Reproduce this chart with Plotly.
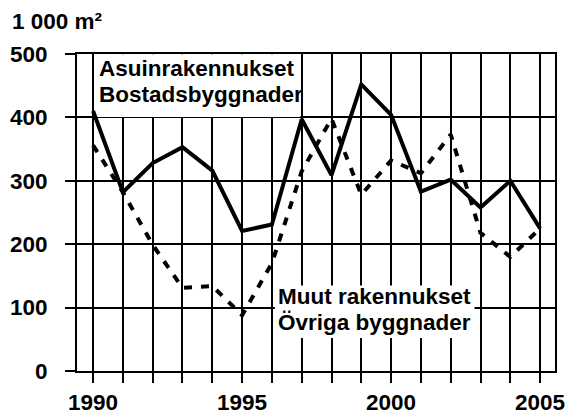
import plotly.graph_objects as go

years = list(range(1990, 2006))
asuin = [410, 282, 328, 353, 316, 221, 231, 397, 309, 452, 404, 283, 302, 258, 300, 225]
muut = [356, 282, 199, 131, 134, 88, 170, 315, 398, 278, 332, 312, 373, 218, 180, 225]
y_ticks = [0, 100, 200, 300, 400, 500]
x_labels = {1990: "1990", 1995: "1995", 2000: "2000", 2005: "2005"}
label_asuin = ["Asuinrakennukset", "Bostadsbyggnader"]
label_muut = ["Muut rakennukset", "Övriga byggnader"]
unit_title = "1 000 m²"

FONT = "Liberation Sans"
FS = 22.5
FONT_D = dict(family=FONT, size=FS, color="black", weight="bold")

fig = go.Figure()
fig.add_trace(go.Scatter(x=years, y=muut, mode="lines",
                         line=dict(color="black", width=4, dash="8px,9px"),
                         showlegend=False, hoverinfo="skip"))
fig.add_trace(go.Scatter(x=years, y=asuin, mode="lines",
                         line=dict(color="black", width=4),
                         showlegend=False, hoverinfo="skip"))

# white label boxes above grid, below traces
fig.add_shape(type="rect", xref="x", yref="y", x0=1990.05, x1=1996.95, y0=400.5, y1=499.5,
              fillcolor="white", line=dict(width=0), layer="between")
fig.add_shape(type="rect", xref="x", yref="y", x0=1996.1, x1=2002.8, y0=52, y1=135,
              fillcolor="white", line=dict(width=0), layer="between")

for txt, yv in zip(label_asuin, [477, 436]):
    fig.add_annotation(x=1990.12, y=yv, xref="x", yref="y", text=txt, showarrow=False,
                       xanchor="left", yanchor="middle", font=FONT_D)
for txt, yv in zip(label_muut, [118, 76]):
    fig.add_annotation(x=1996.15, y=yv, xref="x", yref="y", text=txt, showarrow=False,
                       xanchor="left", yanchor="middle", font=FONT_D)

fig.add_annotation(x=-0.140, y=1.104, xref="paper", yref="paper", text=unit_title,
                   showarrow=False, xanchor="left", yanchor="middle", font=FONT_D)

fig.update_xaxes(range=[1989.46, 2005.5], tickvals=years,
                 ticktext=[x_labels.get(y, "") for y in years],
                 ticks="outside", ticklen=10, tickwidth=1.5, tickcolor="black",
                 showgrid=True, gridcolor="black", gridwidth=1.5,
                 showline=True, linecolor="black", linewidth=2, mirror=True,
                 zeroline=False, ticklabelstandoff=0, tickfont=FONT_D,
                 automargin=False, fixedrange=True)
fig.update_yaxes(range=[0, 500], tickvals=y_ticks,
                 ticks="outside", ticklen=10, tickwidth=1.5, tickcolor="black",
                 showgrid=True, gridcolor="black", gridwidth=1.5,
                 showline=True, linecolor="black", linewidth=2, mirror=True,
                 zeroline=False, ticklabelstandoff=13, tickfont=FONT_D,
                 automargin=False, fixedrange=True)

fig.update_layout(width=566, height=415, margin=dict(l=77, r=11, t=54, b=44, autoexpand=False),
                  paper_bgcolor="white", plot_bgcolor="white",
                  font=FONT_D, hovermode=False)

fig.write_html("out.html", config={"displayModeBar": False},
               post_script="document.body.style.margin='0';document.body.style.overflow='hidden';")
